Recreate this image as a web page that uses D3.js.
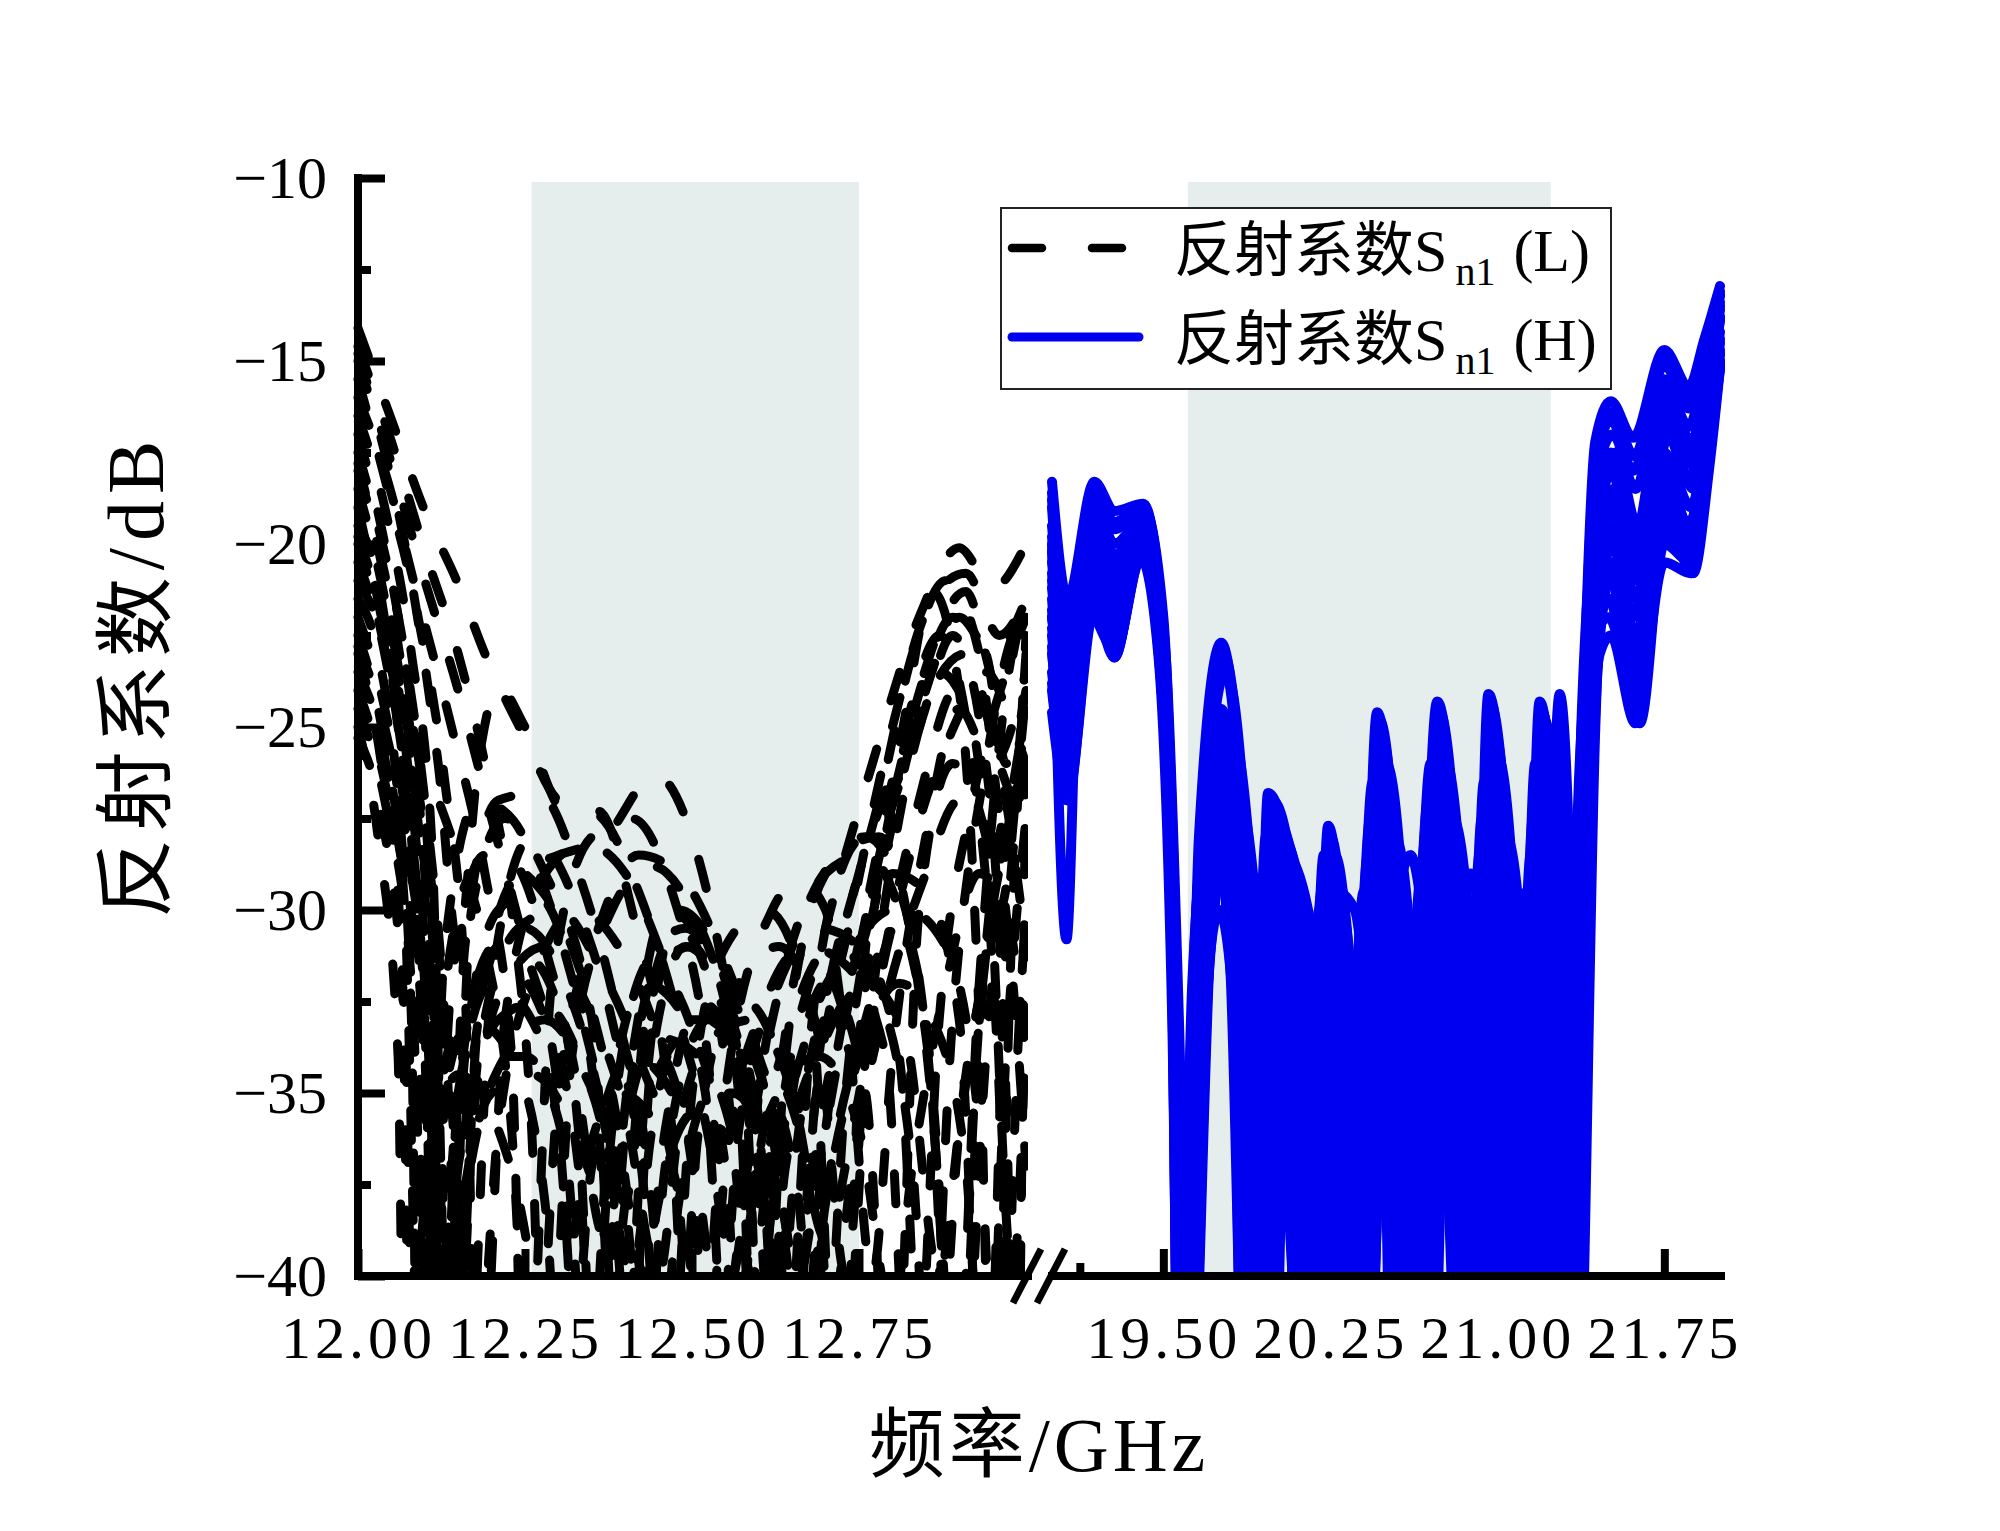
<!DOCTYPE html>
<html>
<head>
<meta charset="utf-8">
<script src="https://cdn.jsdelivr.net/npm/d3@7"></script>
<style>
  body { margin: 0; background: #fff; }
  svg { display: block; }
  text { font-family: "Liberation Serif", "Noto Sans CJK SC", serif; fill: #000; }
</style>
</head>
<body>
<svg id="chart" width="2000" height="1531"></svg>
<script>
// axis ranges and ticks
const domainL = [12, 13];
const domainH = [19, 22];
const domainY = [-40, -10];
const bandL = [12.26, 12.75];
const bandH = [19.61, 21.24];
const ticksL = [12.00, 12.25, 12.50, 12.75];
const minorL = [12.125, 12.375, 12.625, 12.875];
const ticksH = [19.50, 20.25, 21.00, 21.75];
const minorH = [19.125, 19.875, 20.625, 21.375];
const ticksY = [-10, -15, -20, -25, -30, -35, -40];
const minorY = [-12.5, -17.5, -22.5, -27.5, -32.5, -37.5];
const legendNames = ["(L)", "(H)"];

// reflection coefficient traces, low band [GHz, dB]
const curvesL = [
  [[12.00,-14.1],[12.05,-16.6],[12.10,-19.1],[12.15,-21.1],[12.19,-23.0],[12.25,-25.3],[12.30,-27.0],[12.36,-27.4],[12.42,-29.5],[12.48,-33],[12.54,-38],[12.58,-45],[12.63,-36],[12.70,-30.5],[12.77,-26],[12.84,-22],[12.90,-20.1],[12.95,-21.2],[13.00,-20.0]],
  [[12.00,-15.0],[12.04,-17.5],[12.08,-21],[12.12,-26],[12.15,-31],[12.18,-26],[12.21,-23.9],[12.25,-25],[12.31,-27.3],[12.36,-27.3],[12.41,-30],[12.47,-36],[12.50,-45],[12.55,-35],[12.62,-30],[12.66,-29.2],[12.70,-30],[12.74,-34],[12.78,-29],[12.84,-24],[12.91,-21.3],[12.96,-24],[13.00,-21]],
  [[12.00,-16.5],[12.04,-19],[12.08,-23],[12.11,-28],[12.14,-45],[12.18,-33],[12.24,-29],[12.30,-28.5],[12.37,-28],[12.445,-26.3],[12.50,-28],[12.56,-33],[12.60,-38],[12.63,-45],[12.68,-33],[12.73,-28.6],[12.78,-27.5],[12.84,-25],[12.89,-22.5],[12.94,-26],[12.97,-35],[12.985,-45],[13.00,-25]],
  [[12.00,-17.5],[12.03,-19.5],[12.07,-23],[12.10,-27],[12.13,-33],[12.16,-45],[12.20,-32],[12.26,-28],[12.33,-30],[12.38,-33],[12.43,-38],[12.46,-45],[12.50,-35],[12.55,-31],[12.61,-30],[12.68,-33],[12.72,-45],[12.76,-31],[12.82,-26],[12.87,-23.5],[12.92,-25],[12.96,-30],[13.00,-23]],
  [[12.00,-18.5],[12.04,-21.5],[12.08,-26],[12.11,-33],[12.13,-45],[12.17,-30],[12.22,-27.5],[12.28,-29],[12.35,-33],[12.40,-45],[12.44,-34],[12.49,-31],[12.54,-32],[12.60,-36],[12.64,-45],[12.69,-34],[12.75,-29],[12.81,-25.5],[12.86,-21.3],[12.90,-24],[12.93,-33],[12.95,-45],[12.98,-30],[13.00,-22.5]],
  [[12.00,-19.5],[12.03,-21],[12.06,-25],[12.09,-31],[12.10,-45],[12.14,-32],[12.19,-28.5],[12.25,-29],[12.32,-31],[12.38,-35],[12.43,-40],[12.46,-36],[12.51,-32.5],[12.57,-34],[12.62,-40],[12.65,-45],[12.70,-36],[12.76,-30],[12.82,-25],[12.87,-22.5],[12.92,-26],[12.96,-35],[12.98,-45],[13.00,-30]],
  [[12.00,-20.5],[12.04,-23],[12.08,-28],[12.11,-36],[12.12,-45],[12.16,-34],[12.21,-30],[12.26,-29.5],[12.31,-31],[12.36,-36],[12.39,-45],[12.43,-35],[12.48,-30],[12.53,-31],[12.58,-35],[12.61,-45],[12.66,-36],[12.72,-31],[12.78,-27],[12.83,-23],[12.88,-21],[12.93,-23],[12.97,-28],[13.00,-24]],
  [[12.00,-21.5],[12.03,-23],[12.06,-27],[12.08,-33],[12.09,-45],[12.12,-34],[12.17,-29],[12.22,-28.5],[12.28,-31],[12.33,-36],[12.36,-45],[12.40,-36],[12.45,-31.5],[12.50,-31],[12.56,-33.5],[12.62,-38],[12.66,-34],[12.70,-32],[12.76,-35],[12.80,-45],[12.84,-30],[12.89,-26],[12.94,-28],[12.98,-40],[13.00,-33]],
  [[12.00,-22.5],[12.04,-25.5],[12.07,-30],[12.095,-45],[12.13,-31],[12.18,-27],[12.23,-27.5],[12.29,-30],[12.35,-34],[12.40,-38],[12.43,-33],[12.48,-30.5],[12.54,-33],[12.59,-40],[12.62,-36],[12.67,-31],[12.73,-33],[12.77,-40],[12.80,-34],[12.85,-28],[12.90,-24.5],[12.95,-26],[13.00,-23.5]],
  [[12.00,-23.5],[12.03,-25],[12.06,-28],[12.10,-34],[12.12,-45],[12.16,-36],[12.21,-31],[12.27,-31.5],[12.32,-34],[12.37,-39],[12.41,-34],[12.46,-30],[12.52,-31],[12.57,-35],[12.60,-45],[12.64,-34],[12.70,-29],[12.76,-28],[12.82,-30],[12.87,-38],[12.89,-45],[12.93,-33],[12.97,-28],[13.00,-26]],
  [[12.00,-24.5],[12.04,-27],[12.08,-32],[12.11,-45],[12.15,-35],[12.20,-32],[12.26,-33],[12.30,-36],[12.34,-45],[12.38,-35],[12.43,-32],[12.49,-33],[12.55,-37],[12.58,-45],[12.62,-38],[12.68,-33],[12.74,-31],[12.80,-30],[12.85,-33],[12.895,-45],[12.94,-31],[12.98,-27],[13.00,-27]],
  [[12.00,-25.3],[12.03,-27],[12.07,-33],[12.085,-45],[12.12,-36],[12.17,-33],[12.23,-34],[12.28,-38],[12.31,-45],[12.35,-37],[12.41,-34],[12.47,-35],[12.52,-39],[12.55,-45],[12.59,-38],[12.65,-33],[12.71,-31],[12.77,-32],[12.83,-37],[12.86,-45],[12.90,-36],[12.95,-31],[13.00,-29]],
  [[12.00,-21],[12.04,-22.5],[12.09,-25.5],[12.14,-28],[12.19,-31],[12.23,-36],[12.26,-45],[12.30,-35],[12.36,-30.5],[12.42,-28.5],[12.48,-29],[12.54,-31],[12.60,-34],[12.66,-38],[12.69,-45],[12.73,-35],[12.79,-28.5],[12.85,-24],[12.90,-22],[12.95,-23],[13.00,-21.5]],
  [[12.00,-16],[12.04,-18],[12.09,-21.5],[12.14,-25],[12.19,-29],[12.23,-34],[12.25,-45],[12.29,-32],[12.35,-28],[12.41,-27.5],[12.47,-29.5],[12.52,-33.5],[12.56,-40],[12.59,-36],[12.64,-31.5],[12.70,-29],[12.76,-28.5],[12.81,-30],[12.86,-35],[12.90,-45],[12.94,-34],[12.98,-27],[13.00,-25]],
  [[12.00,-14.6],[12.05,-17.2],[12.10,-20.2],[12.15,-23],[12.19,-26],[12.23,-30],[12.26,-36],[12.28,-45],[12.32,-34],[12.38,-30],[12.44,-28.8],[12.50,-30],[12.56,-33],[12.61,-37],[12.64,-45],[12.68,-36],[12.74,-30],[12.80,-25],[12.86,-21.5],[12.91,-20.8],[12.96,-22.5],[13.00,-21.5]],
  [[12.00,-15.5],[12.04,-18.2],[12.09,-22],[12.13,-26.5],[12.16,-32],[12.18,-45],[12.22,-33],[12.28,-29],[12.34,-28.2],[12.40,-29],[12.46,-31.5],[12.52,-35],[12.56,-45],[12.60,-35],[12.66,-30.5],[12.72,-28.5],[12.78,-28],[12.83,-31],[12.87,-38],[12.89,-45],[12.93,-32],[12.97,-24],[13.00,-21.5]],
  [[12.00,-17],[12.04,-20],[12.08,-24.5],[12.11,-30],[12.125,-45],[12.16,-31],[12.21,-27],[12.27,-26.8],[12.33,-29],[12.39,-33],[12.44,-38],[12.47,-45],[12.51,-36],[12.57,-32],[12.63,-31],[12.69,-33.5],[12.73,-40],[12.76,-34],[12.81,-27.5],[12.86,-24],[12.91,-23],[12.96,-26],[13.00,-28]],
  [[12.00,-18],[12.03,-20],[12.07,-24],[12.10,-29],[12.12,-36],[12.14,-45],[12.18,-34],[12.24,-30.5],[12.30,-30],[12.36,-31.5],[12.42,-34],[12.48,-38],[12.51,-45],[12.55,-37],[12.61,-32.5],[12.67,-31],[12.73,-31.5],[12.79,-34],[12.83,-45],[12.87,-33],[12.92,-27],[12.97,-23.5],[13.00,-22]],
  [[12.00,-19],[12.04,-22.5],[12.08,-27],[12.105,-33],[12.12,-45],[12.15,-35],[12.20,-31],[12.25,-30.5],[12.31,-32],[12.36,-35],[12.41,-40],[12.44,-36],[12.49,-33],[12.55,-33],[12.61,-35],[12.66,-40],[12.69,-36],[12.74,-32],[12.80,-29],[12.85,-29.5],[12.90,-33],[12.94,-45],[12.97,-31],[13.00,-26]],
  [[12.00,-20],[12.03,-22],[12.07,-26.5],[12.10,-33],[12.115,-45],[12.15,-37],[12.21,-33],[12.27,-32.5],[12.33,-34],[12.38,-37.5],[12.42,-45],[12.46,-37],[12.52,-33],[12.58,-32.5],[12.64,-34.5],[12.69,-38],[12.72,-45],[12.76,-35],[12.82,-29],[12.88,-25.5],[12.93,-24],[12.97,-27],[13.00,-31]],
  [[12.00,-22],[12.04,-24.5],[12.08,-29],[12.10,-35],[12.11,-45],[12.14,-37],[12.19,-34],[12.25,-34],[12.31,-36.5],[12.35,-45],[12.39,-37],[12.45,-33.5],[12.51,-34],[12.57,-37],[12.60,-45],[12.64,-37],[12.70,-33.5],[12.76,-32],[12.82,-33.5],[12.87,-40],[12.90,-36],[12.95,-30],[13.00,-24.5]],
  [[12.00,-23],[12.035,-26],[12.065,-31],[12.08,-45],[12.11,-37],[12.16,-32.5],[12.22,-31.5],[12.28,-33],[12.33,-37],[12.36,-45],[12.40,-38],[12.46,-34],[12.52,-33],[12.58,-34.5],[12.63,-39],[12.66,-45],[12.70,-38],[12.76,-33],[12.82,-30],[12.88,-31],[12.93,-36],[12.96,-45],[12.99,-33],[13.00,-30]],
  [[12.00,-24],[12.04,-26.5],[12.08,-31],[12.105,-38],[12.12,-45],[12.15,-39],[12.20,-35],[12.26,-34.5],[12.32,-36],[12.38,-40],[12.41,-45],[12.44,-39],[12.50,-35.5],[12.56,-35],[12.62,-37],[12.67,-42],[12.70,-38],[12.75,-34],[12.81,-32],[12.86,-33],[12.91,-37],[12.94,-45],[12.97,-34],[13.00,-27.5]],
  [[12.00,-25],[12.03,-28],[12.06,-34],[12.07,-45],[12.10,-38],[12.15,-34.5],[12.21,-36],[12.26,-40],[12.29,-45],[12.33,-38],[12.39,-35],[12.45,-36],[12.50,-40],[12.53,-45],[12.57,-39],[12.63,-35],[12.69,-34],[12.75,-36],[12.80,-41],[12.83,-37],[12.88,-32],[12.93,-29],[12.97,-30],[13.00,-34]],
  [[12.00,-19.8],[12.05,-23],[12.09,-27.5],[12.12,-33],[12.14,-45],[12.17,-36],[12.22,-32],[12.28,-31],[12.34,-32.5],[12.40,-35.5],[12.45,-40],[12.48,-36],[12.53,-33.5],[12.59,-33],[12.65,-35],[12.70,-39],[12.74,-36],[12.79,-31],[12.84,-27],[12.89,-24],[12.94,-23.5],[12.98,-25],[13.00,-26]],
  [[12.00,-17.8],[12.04,-21],[12.08,-25.5],[12.12,-31],[12.15,-38],[12.17,-45],[12.21,-36],[12.27,-31.5],[12.33,-30],[12.39,-31],[12.45,-33.5],[12.50,-37],[12.53,-45],[12.57,-36],[12.63,-32],[12.69,-30.5],[12.75,-31],[12.81,-34],[12.85,-45],[12.89,-33],[12.94,-26],[12.98,-22.5],[13.00,-22]],
  [[12.00,-22.8],[12.04,-25],[12.08,-29],[12.11,-34],[12.13,-45],[12.16,-38],[12.22,-34],[12.28,-33],[12.34,-34.5],[12.40,-38],[12.44,-45],[12.48,-38],[12.54,-34.5],[12.60,-34],[12.66,-36],[12.71,-41],[12.74,-37],[12.79,-32.5],[12.85,-29],[12.90,-27],[12.95,-28],[12.985,-33],[13.00,-37]],
  [[12.00,-14.8],[12.05,-17.8],[12.10,-21],[12.15,-24],[12.20,-27.5],[12.25,-31],[12.30,-35],[12.34,-45],[12.38,-36],[12.43,-31.5],[12.49,-30.5],[12.55,-32],[12.61,-35],[12.66,-40],[12.69,-37],[12.74,-32],[12.80,-27],[12.85,-23.5],[12.89,-22],[12.94,-23],[12.97,-26],[13.00,-24]]
];

// reflection coefficient traces, high band [GHz, dB]
const curvesH = [
  [[19.00,-18.3],[19.07,-21.5],[19.19,-18.3],[19.28,-19.1],[19.41,-18.9],[19.49,-21.8],[19.545,-30],[19.585,-45],[19.66,-28],[19.76,-22.7],[19.85,-27.5],[19.90,-45],[19.97,-26.8],[20.08,-29.5],[20.16,-45],[20.24,-27.7],[20.31,-32],[20.35,-45],[20.46,-24.6],[20.55,-31],[20.59,-45],[20.73,-24.3],[20.82,-30],[20.87,-45],[20.96,-24.1],[21.05,-30],[21.10,-45],[21.19,-24.3],[21.27,-30],[21.32,-45],[21.40,-22],[21.44,-17.2],[21.51,-16.1],[21.61,-17.1],[21.75,-14.7],[21.86,-15.7],[21.93,-14.4],[22.00,-12.95]],
  [[19.00,-19.0],[19.07,-23],[19.19,-18.8],[19.28,-20.0],[19.42,-19.2],[19.50,-22.5],[19.555,-31],[19.595,-45],[19.68,-28.5],[19.78,-23.5],[19.88,-29],[19.93,-45],[20.01,-27.5],[20.10,-29],[20.17,-31],[20.25,-28],[20.33,-33],[20.37,-45],[20.48,-25.5],[20.58,-32],[20.62,-45],[20.74,-25],[20.84,-31],[20.89,-45],[20.98,-25],[21.07,-31],[21.12,-45],[21.21,-24.8],[21.29,-30],[21.335,-45],[21.41,-23],[21.45,-18],[21.52,-17],[21.62,-18.5],[21.75,-15.5],[21.86,-16.8],[21.93,-15.2],[22.00,-13.4]],
  [[19.00,-20.0],[19.065,-30.8],[19.12,-22],[19.19,-19.5],[19.28,-21],[19.42,-19.4],[19.50,-23],[19.55,-33],[19.58,-45],[19.65,-30],[19.74,-24.5],[19.83,-30],[19.88,-45],[19.96,-28],[20.06,-31],[20.13,-45],[20.22,-28.5],[20.29,-34],[20.32,-45],[20.44,-26.5],[20.53,-33],[20.57,-45],[20.70,-26],[20.80,-33],[20.85,-45],[20.94,-26.5],[21.03,-32],[21.08,-45],[21.17,-26],[21.25,-31],[21.31,-45],[21.39,-24],[21.44,-19],[21.51,-18],[21.61,-20],[21.74,-16.5],[21.86,-17.8],[21.93,-16],[22.00,-13.8]],
  [[19.00,-21.5],[19.07,-25],[19.19,-20.5],[19.28,-22.5],[19.41,-19.8],[19.50,-23.5],[19.56,-33],[19.61,-45],[19.70,-30],[19.80,-25.5],[19.90,-31],[19.96,-45],[20.04,-29],[20.14,-31],[20.20,-40],[20.27,-29.5],[20.35,-35],[20.39,-45],[20.50,-27.5],[20.60,-34],[20.65,-45],[20.76,-27],[20.86,-33],[20.91,-45],[21.00,-27.5],[21.09,-33],[21.14,-45],[21.23,-27],[21.30,-32],[21.35,-45],[21.42,-25],[21.46,-20],[21.52,-19],[21.62,-21.5],[21.75,-17.5],[21.87,-19],[21.94,-16.8],[22.00,-14.2]],
  [[19.00,-23.0],[19.08,-26],[19.19,-21],[19.28,-23.1],[19.40,-20.0],[19.48,-23],[19.54,-32],[19.57,-45],[19.64,-31],[19.72,-26],[19.81,-31],[19.86,-45],[19.94,-30],[20.04,-32],[20.11,-45],[20.20,-30],[20.27,-35],[20.30,-45],[20.42,-28.5],[20.51,-34],[20.55,-45],[20.68,-28],[20.78,-34],[20.83,-45],[20.92,-28.5],[21.01,-34],[21.06,-45],[21.15,-28.5],[21.23,-33],[21.29,-45],[21.38,-25],[21.44,-20],[21.50,-19.5],[21.62,-23],[21.75,-18.5],[21.87,-20.2],[21.94,-17.5],[22.00,-14.7]],
  [[19.00,-24.6],[19.07,-27],[19.18,-22],[19.27,-22.8],[19.40,-20.3],[19.49,-23.5],[19.55,-33],[19.59,-45],[19.67,-32],[19.77,-27],[19.86,-32],[19.91,-45],[19.99,-31],[20.09,-33],[20.16,-45],[20.24,-31],[20.31,-36],[20.35,-45],[20.47,-30],[20.56,-35],[20.60,-45],[20.73,-29.5],[20.82,-35],[20.87,-45],[20.97,-29.5],[21.05,-35],[21.10,-45],[21.20,-29.5],[21.27,-34],[21.32,-45],[21.40,-26],[21.45,-21],[21.51,-20.5],[21.63,-24],[21.76,-19],[21.87,-20.8],[21.94,-18],[22.00,-15.2]],
  [[19.00,-22],[19.07,-24],[19.19,-19.8],[19.28,-21.8],[19.41,-19.6],[19.50,-23.5],[19.56,-32],[19.60,-45],[19.69,-33],[19.79,-28],[19.89,-33],[19.94,-45],[20.03,-33],[20.12,-35],[20.18,-45],[20.26,-33],[20.33,-37],[20.38,-45],[20.49,-32],[20.59,-37],[20.63,-45],[20.75,-31],[20.84,-36],[20.90,-45],[20.99,-32],[21.08,-37],[21.12,-45],[21.22,-31.5],[21.29,-36],[21.34,-45],[21.41,-25],[21.46,-19.5],[21.52,-18.5],[21.62,-21],[21.75,-16.8],[21.86,-18.2],[21.94,-16],[22.00,-13.6]],
  [[19.00,-20.5],[19.07,-22],[19.19,-19],[19.28,-20.5],[19.41,-19.3],[19.49,-22.5],[19.55,-32],[19.585,-45],[19.66,-34],[19.75,-28.5],[19.84,-34],[19.89,-45],[19.97,-34],[20.05,-37.1],[20.14,-45],[20.23,-34],[20.30,-38],[20.34,-45],[20.45,-34],[20.54,-38],[20.58,-45],[20.71,-33],[20.80,-37.9],[20.86,-45],[20.95,-34.5],[21.04,-38],[21.09,-45],[21.18,-35],[21.26,-38],[21.31,-45],[21.39,-26],[21.45,-20.5],[21.51,-19.8],[21.62,-22.5],[21.75,-18],[21.86,-19.5],[21.94,-17],[22.00,-14.4]],
  [[19.00,-19.5],[19.07,-22.5],[19.19,-19],[19.28,-20.3],[19.42,-19.5],[19.51,-23.5],[19.565,-33],[19.615,-45],[19.71,-29.5],[19.81,-26.5],[19.91,-30],[19.97,-45],[20.05,-28.5],[20.15,-30],[20.21,-34],[20.28,-29],[20.36,-34],[20.40,-45],[20.51,-27],[20.61,-33],[20.66,-45],[20.77,-26.5],[20.87,-32],[20.92,-45],[21.01,-27],[21.10,-32],[21.15,-45],[21.24,-26],[21.31,-31],[21.355,-45],[21.43,-24],[21.47,-18.5],[21.53,-17.5],[21.63,-19.5],[21.76,-15.8],[21.87,-17.2],[21.94,-15.5],[22.00,-13.2]],
  [[19.00,-22.5],[19.07,-25.5],[19.19,-20.8],[19.28,-22],[19.41,-19.9],[19.49,-23],[19.545,-33],[19.575,-45],[19.65,-30],[19.73,-25],[19.82,-30],[19.87,-45],[19.95,-29],[20.05,-32],[20.12,-45],[20.21,-29.5],[20.28,-34],[20.31,-45],[20.43,-27.5],[20.52,-33],[20.56,-45],[20.69,-27],[20.79,-33],[20.84,-45],[20.93,-27.5],[21.02,-33],[21.07,-45],[21.16,-27.5],[21.24,-32],[21.30,-45],[21.38,-24.5],[21.44,-19.5],[21.50,-18.8],[21.61,-22],[21.74,-17.8],[21.86,-19.5],[21.94,-17.2],[22.00,-14.5]],
  [[19.00,-21],[19.07,-24],[19.19,-20],[19.28,-21.5],[19.41,-19.5],[19.49,-22.8],[19.55,-32],[19.59,-45],[19.67,-29],[19.76,-24.5],[19.85,-29],[19.92,-45],[20.00,-29],[20.09,-30.5],[20.16,-45],[20.245,-29],[20.32,-34],[20.36,-45],[20.46,-25.5],[20.56,-32],[20.61,-45],[20.72,-25.5],[20.83,-32],[20.88,-45],[20.96,-25],[21.06,-31],[21.11,-45],[21.20,-25],[21.28,-30],[21.33,-45],[21.41,-23.5],[21.45,-18.5],[21.51,-17.5],[21.62,-19.8],[21.75,-16],[21.86,-17.5],[21.94,-15.5],[22.00,-13.5]],
  [[19.00,-23.5],[19.07,-26],[19.19,-21.5],[19.28,-23],[19.41,-20.1],[19.50,-23.5],[19.56,-32],[19.62,-45],[19.71,-31],[19.82,-27.5],[19.92,-32],[19.98,-45],[20.06,-30],[20.16,-32],[20.22,-38],[20.29,-31],[20.37,-36],[20.41,-45],[20.52,-29],[20.62,-35],[20.67,-45],[20.78,-28.5],[20.88,-34],[20.93,-45],[21.02,-29],[21.12,-34],[21.17,-45],[21.28,-24.1],[21.33,-30],[21.36,-45],[21.43,-26],[21.48,-21.5],[21.53,-20.5],[21.64,-24.9],[21.76,-19],[21.88,-20.8],[21.95,-18],[22.00,-15.2]],
  [[19.00,-18.8],[19.07,-22],[19.19,-18.6],[19.28,-19.6],[19.41,-19.0],[19.50,-22.3],[19.55,-31],[19.59,-45],[19.67,-28.5],[19.765,-23.2],[19.86,-28.5],[19.91,-45],[19.985,-27.3],[20.09,-30],[20.155,-40],[20.235,-28.3],[20.32,-33],[20.36,-45],[20.47,-25],[20.57,-31.5],[20.60,-45],[20.73,-24.8],[20.83,-30.5],[20.88,-45],[20.97,-24.6],[21.06,-30.5],[21.11,-45],[21.20,-24.6],[21.28,-30],[21.325,-45],[21.40,-23],[21.445,-17.8],[21.51,-16.6],[21.61,-18],[21.75,-15.1],[21.86,-16.3],[21.93,-14.8],[22.00,-13.2]],
  [[19.00,-22],[19.07,-24.5],[19.19,-20.2],[19.28,-22.8],[19.41,-19.7],[19.49,-23],[19.55,-32.5],[19.59,-45],[19.68,-31],[19.78,-26],[19.87,-31],[19.92,-45],[20.00,-30],[20.10,-31.5],[20.165,-45],[20.25,-30],[20.32,-35],[20.36,-45],[20.47,-28],[20.57,-34],[20.61,-45],[20.73,-27.5],[20.83,-34],[20.88,-45],[20.97,-27.5],[21.06,-33],[21.11,-45],[21.20,-27.5],[21.28,-32],[21.33,-45],[21.41,-27],[21.46,-23],[21.51,-22.5],[21.62,-24.9],[21.75,-20.5],[21.87,-20.8],[21.94,-17.5],[22.00,-15]],
  [[19.00,-20.8],[19.07,-23.5],[19.19,-19.6],[19.28,-21.2],[19.41,-19.4],[19.50,-23],[19.555,-32],[19.60,-45],[19.69,-30.5],[19.79,-26],[19.88,-30.5],[19.935,-45],[20.02,-29.5],[20.11,-31],[20.175,-45],[20.26,-29],[20.34,-34],[20.38,-45],[20.49,-26.5],[20.59,-33],[20.64,-45],[20.75,-26],[20.85,-32],[20.90,-45],[20.99,-26.5],[21.08,-32],[21.13,-45],[21.22,-26],[21.29,-31],[21.34,-45],[21.42,-26],[21.46,-21.5],[21.52,-21],[21.62,-23.8],[21.75,-19.5],[21.87,-20.2],[21.94,-17],[22.00,-14.8]],
  [[19.00,-24],[19.07,-26.5],[19.185,-21.5],[19.28,-23],[19.40,-20.4],[19.48,-23.2],[19.54,-33],[19.575,-45],[19.65,-32],[19.74,-27.5],[19.83,-32.5],[19.88,-45],[19.96,-31.5],[20.06,-33.5],[20.125,-45],[20.21,-31.5],[20.29,-36],[20.32,-45],[20.44,-30.5],[20.53,-35.5],[20.57,-45],[20.70,-30],[20.80,-35],[20.85,-45],[20.94,-30],[21.03,-35],[21.08,-45],[21.17,-30],[21.25,-34],[21.30,-45],[21.39,-27],[21.45,-22],[21.50,-21.5],[21.62,-24.5],[21.75,-20],[21.87,-20.5],[21.94,-17.8],[22.00,-15.1]],
  [[19.00,-19.8],[19.07,-22.8],[19.19,-19.2],[19.28,-20.8],[19.42,-19.3],[19.50,-22.8],[19.56,-32],[19.605,-45],[19.70,-29],[19.80,-25],[19.90,-29.5],[19.95,-45],[20.03,-28],[20.13,-30],[20.19,-36],[20.27,-28.5],[20.35,-33.5],[20.39,-45],[20.50,-26],[20.60,-32.5],[20.65,-45],[20.76,-25.8],[20.86,-31.5],[20.91,-45],[21.00,-25.8],[21.09,-31.5],[21.14,-45],[21.23,-25.5],[21.30,-30.5],[21.345,-45],[21.42,-24],[21.46,-19],[21.52,-18],[21.62,-20.5],[21.75,-16.3],[21.86,-17.8],[21.94,-16],[22.00,-13.9]],
  [[19.00,-21.8],[19.07,-25.5],[19.19,-21.2],[19.28,-22.3],[19.41,-20],[19.49,-23.3],[19.55,-33],[19.58,-45],[19.66,-35],[19.75,-30],[19.84,-35],[19.88,-45],[19.96,-35],[20.05,-36.5],[20.13,-45],[20.22,-35],[20.29,-39],[20.33,-45],[20.44,-33.5],[20.54,-39],[20.58,-45],[20.71,-32.5],[20.80,-37.5],[20.85,-45],[20.94,-33],[21.03,-37.5],[21.08,-45],[21.17,-33.5],[21.25,-37],[21.30,-45],[21.38,-28],[21.44,-22.5],[21.50,-22],[21.62,-24.2],[21.75,-19.5],[21.87,-20.5],[21.94,-17.8],[22.00,-15]],
  [[19.00,-22.8],[19.065,-27],[19.19,-20.5],[19.28,-22.6],[19.41,-19.9],[19.50,-23.3],[19.56,-32],[19.61,-45],[19.70,-32],[19.80,-27.5],[19.89,-32],[19.94,-45],[20.02,-31],[20.12,-33],[20.18,-45],[20.27,-31],[20.34,-35.5],[20.38,-45],[20.50,-29.5],[20.60,-35],[20.64,-45],[20.76,-29],[20.85,-34.5],[20.90,-45],[21.00,-29.5],[21.09,-34.5],[21.13,-45],[21.23,-29],[21.30,-33],[21.35,-45],[21.42,-26.5],[21.47,-21],[21.52,-20],[21.63,-22.8],[21.76,-18.3],[21.87,-19.8],[21.94,-17.3],[22.00,-14.8]],
  [[19.00,-18.6],[19.07,-21.8],[19.19,-18.5],[19.28,-19.4],[19.41,-19],[19.50,-22],[19.55,-31],[19.59,-45],[19.67,-28],[19.77,-23],[19.86,-28],[19.915,-45],[19.99,-27],[20.09,-29.5],[20.16,-45],[20.245,-28],[20.32,-32.5],[20.36,-45],[20.47,-24.8],[20.56,-31],[20.60,-45],[20.735,-24.5],[20.83,-30],[20.875,-45],[20.965,-24.3],[21.06,-30],[21.105,-45],[21.195,-24.5],[21.28,-30],[21.33,-45],[21.40,-22.5],[21.445,-17.5],[21.515,-16.4],[21.615,-17.6],[21.75,-14.9],[21.86,-16],[21.93,-14.6],[22.00,-13.1]],
  [[19.00,-21.2],[19.07,-24],[19.19,-20],[19.28,-22],[19.41,-19.6],[19.49,-23],[19.55,-32],[19.59,-45],[19.68,-30],[19.77,-25.5],[19.86,-30],[19.91,-45],[19.97,-32],[20.06,-36],[20.12,-31],[20.17,-37],[20.22,-33],[20.28,-29.5],[20.36,-30],[20.46,-34.5],[20.52,-31],[20.61,-28.5],[20.70,-31.5],[20.80,-33.5],[20.88,-29],[20.96,-31],[21.01,-35],[21.08,-30],[21.14,-30.5],[21.24,-35.5],[21.30,-33],[21.35,-45],[21.43,-25],[21.48,-21],[21.53,-20.5],[21.63,-23.5],[21.76,-18.5],[21.87,-20],[21.95,-17.5],[22.00,-15]],
  [[19.00,-22.3],[19.07,-25],[19.19,-20.8],[19.28,-22.5],[19.41,-19.8],[19.49,-23.2],[19.55,-32.5],[19.58,-45],[19.66,-33],[19.75,-28],[19.84,-33],[19.89,-45],[19.95,-36],[20.07,-35.5],[20.17,-40],[20.25,-36.5],[20.33,-32],[20.43,-35],[20.50,-37],[20.58,-31],[20.66,-31.5],[20.79,-36.5],[20.86,-32],[20.92,-31],[21.00,-36],[21.06,-34],[21.12,-31.5],[21.20,-33],[21.25,-38],[21.31,-45],[21.40,-27],[21.46,-22],[21.51,-21.5],[21.63,-24.3],[21.76,-19.8],[21.88,-20.6],[21.95,-17.8],[22.00,-15.1]],
  [[19.00,-20.2],[19.07,-23.2],[19.19,-19.3],[19.28,-20.6],[19.42,-19.4],[19.51,-23],[19.57,-33],[19.62,-45],[19.72,-30],[19.83,-26.8],[19.93,-31],[19.99,-45],[20.07,-29.5],[20.16,-31.5],[20.22,-36],[20.30,-30],[20.37,-35],[20.40,-45],[20.54,-28],[20.64,-34],[20.70,-45],[20.80,-27.5],[20.90,-33],[20.95,-45],[21.04,-28],[21.13,-33],[21.18,-45],[21.27,-25.5],[21.32,-31],[21.36,-45],[21.44,-25],[21.48,-19.5],[21.54,-18.5],[21.64,-21],[21.77,-17],[21.88,-18.5],[21.95,-16.3],[22.00,-13.8]],
  [[19.00,-23.8],[19.07,-26.8],[19.19,-21.8],[19.28,-23.1],[19.40,-20.2],[19.48,-23],[19.54,-32],[19.57,-45],[19.63,-32],[19.71,-27],[19.80,-31.5],[19.87,-45],[19.93,-31],[20.02,-33],[20.09,-38],[20.18,-31],[20.25,-36],[20.28,-45],[20.40,-29.5],[20.49,-35],[20.53,-45],[20.66,-29],[20.76,-35],[20.84,-45],[20.91,-29.5],[20.99,-35],[21.04,-45],[21.13,-29.5],[21.21,-34],[21.27,-45],[21.37,-26],[21.43,-21],[21.49,-20.5],[21.61,-23.5],[21.74,-19],[21.86,-20.3],[21.94,-17.8],[22.00,-15]]
];

const dim = {left: 358, breakL: 1026, breakR: 1052, right: 1720, top: 178, bottom: 1276, major: 27, minor: 13, axisW: 8};
const colors = {L: "#000", H: "#0000f0", band: "#e5eded"};

const svg = d3.select("#chart");
const xL = d3.scaleLinear(domainL, [dim.left, dim.breakL]);
const xH = d3.scaleLinear(domainH, [dim.breakR, dim.right]);
const y = d3.scaleLinear(domainY, [dim.bottom, dim.top]);

const defs = svg.append("defs");
defs.append("clipPath").attr("id", "clipL").append("rect")
  .attr("x", dim.left - 6).attr("y", 100)
  .attr("width", dim.breakL - dim.left + 8).attr("height", dim.bottom - 100);
defs.append("clipPath").attr("id", "clipH").append("rect")
  .attr("x", dim.breakR - 6).attr("y", 100)
  .attr("width", dim.right - dim.breakR + 12).attr("height", dim.bottom - 100);

// shaded operating bands
svg.append("rect")
  .attr("x", xL(bandL[0])).attr("y", y(-10) + 4)
  .attr("width", xL(bandL[1]) - xL(bandL[0])).attr("height", y(-40) - y(-10) - 4)
  .attr("fill", colors.band);
svg.append("rect")
  .attr("x", xH(bandH[0])).attr("y", y(-10) + 4)
  .attr("width", xH(bandH[1]) - xH(bandH[0])).attr("height", y(-40) - y(-10) - 4)
  .attr("fill", colors.band);

function styleAxis(g) {
  g.select(".domain").remove();
  g.selectAll(".tick line").attr("stroke", "#000").attr("stroke-width", dim.axisW);
  g.selectAll(".tick text")
    .attr("font-family", "Liberation Serif")
    .attr("font-size", 60)
    .attr("fill", "#000");
}

// x ticks (inside), labels below
[[xL, ticksL, minorL], [xH, ticksH, minorH]].forEach(([sc, major, minor]) => {
  svg.append("g")
    .attr("transform", `translate(0 ${dim.bottom})`)
    .call(d3.axisBottom(sc).tickValues(minor).tickSize(-dim.minor).tickFormat(""))
    .call(styleAxis);
  svg.append("g")
    .attr("transform", `translate(0 ${dim.bottom})`)
    .call(d3.axisBottom(sc).tickValues(major).tickSize(-dim.major).tickPadding(39)
      .tickFormat(d3.format(".2f")))
    .call(styleAxis)
    .call(g => g.selectAll(".tick text").attr("letter-spacing", 4));
});

// y ticks
svg.append("g")
  .attr("transform", `translate(${dim.left} 0)`)
  .call(d3.axisLeft(y).tickValues(minorY).tickSize(-dim.minor).tickFormat(""))
  .call(styleAxis);
svg.append("g")
  .attr("transform", `translate(${dim.left} 0)`)
  .call(d3.axisLeft(y).tickValues(ticksY).tickSize(-dim.major).tickPadding(31)
    .tickFormat(d3.format("d")))
  .call(styleAxis);

// traces
const lineL = d3.line().x(d => xL(d[0])).y(d => y(d[1])).curve(d3.curveMonotoneX);
const lineH = d3.line().x(d => xH(d[0])).y(d => y(d[1])).curve(d3.curveMonotoneX);

svg.append("g").attr("clip-path", "url(#clipL)")
  .selectAll("path").data(curvesL).join("path")
    .attr("d", lineL)
    .attr("fill", "none")
    .attr("stroke", colors.L)
    .attr("stroke-width", 9)
    .attr("stroke-linecap", "round")
    .attr("stroke-linejoin", "round")
    .attr("stroke-dasharray", "30 50");

svg.append("g").attr("clip-path", "url(#clipH)")
  .selectAll("path").data(curvesH).join("path")
    .attr("d", lineH)
    .attr("fill", "none")
    .attr("stroke", colors.H)
    .attr("stroke-width", 10)
    .attr("stroke-linecap", "round")
    .attr("stroke-linejoin", "round");

// axis lines and break marks
const axes = svg.append("g").attr("stroke", "#000").attr("stroke-width", dim.axisW)
  .attr("stroke-linecap", "square");
axes.append("line").attr("x1", dim.left).attr("x2", dim.left)
  .attr("y1", y(-10)).attr("y2", y(-40));
axes.append("line").attr("x1", dim.left).attr("x2", xL(13) + 2)
  .attr("y1", y(-40)).attr("y2", y(-40));
axes.append("line").attr("x1", xH(19)).attr("x2", dim.right + 1)
  .attr("y1", y(-40)).attr("y2", y(-40));
const mid = (xL(13) + xH(19)) / 2;
[-12, 12].forEach(off => {
  axes.append("line")
    .attr("stroke-width", 7).attr("stroke-linecap", "butt")
    .attr("x1", mid + off - 14).attr("y1", y(-40) + 27)
    .attr("x2", mid + off + 14).attr("y2", y(-40) - 27);
});

// axis titles
svg.append("text")
  .attr("transform", "translate(163 676) rotate(-90)")
  .attr("text-anchor", "middle")
  .attr("font-size", 80)
  .attr("letter-spacing", 7)
  .text("反射系数/dB");
svg.append("text")
  .attr("x", (dim.left + dim.right) / 2)
  .attr("y", 1471)
  .attr("text-anchor", "middle")
  .attr("font-size", 76)
  .attr("letter-spacing", 4)
  .text("频率/GHz");

// legend
const legend = svg.append("g");
legend.append("rect")
  .attr("x", 1001).attr("y", 208).attr("width", 610).attr("height", 181)
  .attr("fill", "#fff").attr("stroke", "#222").attr("stroke-width", 2);
const rows = [248, 337];
legendNames.forEach((name, i) => {
  const ly = rows[i];
  legend.append("line")
    .attr("x1", 1012).attr("x2", i === 0 ? 1128 : 1139)
    .attr("y1", ly).attr("y2", ly)
    .attr("stroke", i === 0 ? colors.L : colors.H)
    .attr("stroke-width", i === 0 ? 8.5 : 9)
    .attr("stroke-linecap", "round")
    .attr("stroke-dasharray", i === 0 ? "30 50" : null);
  const t = legend.append("text").attr("x", 1174).attr("y", ly + 23).attr("font-size", 60);
  t.append("tspan").text("反射系数S");
  t.append("tspan").attr("font-size", 40).attr("dx", 8).attr("dy", 14).text("n1");
  t.append("tspan").attr("dx", 18).attr("dy", -14).text(name);
});
</script>
</body>
</html>
